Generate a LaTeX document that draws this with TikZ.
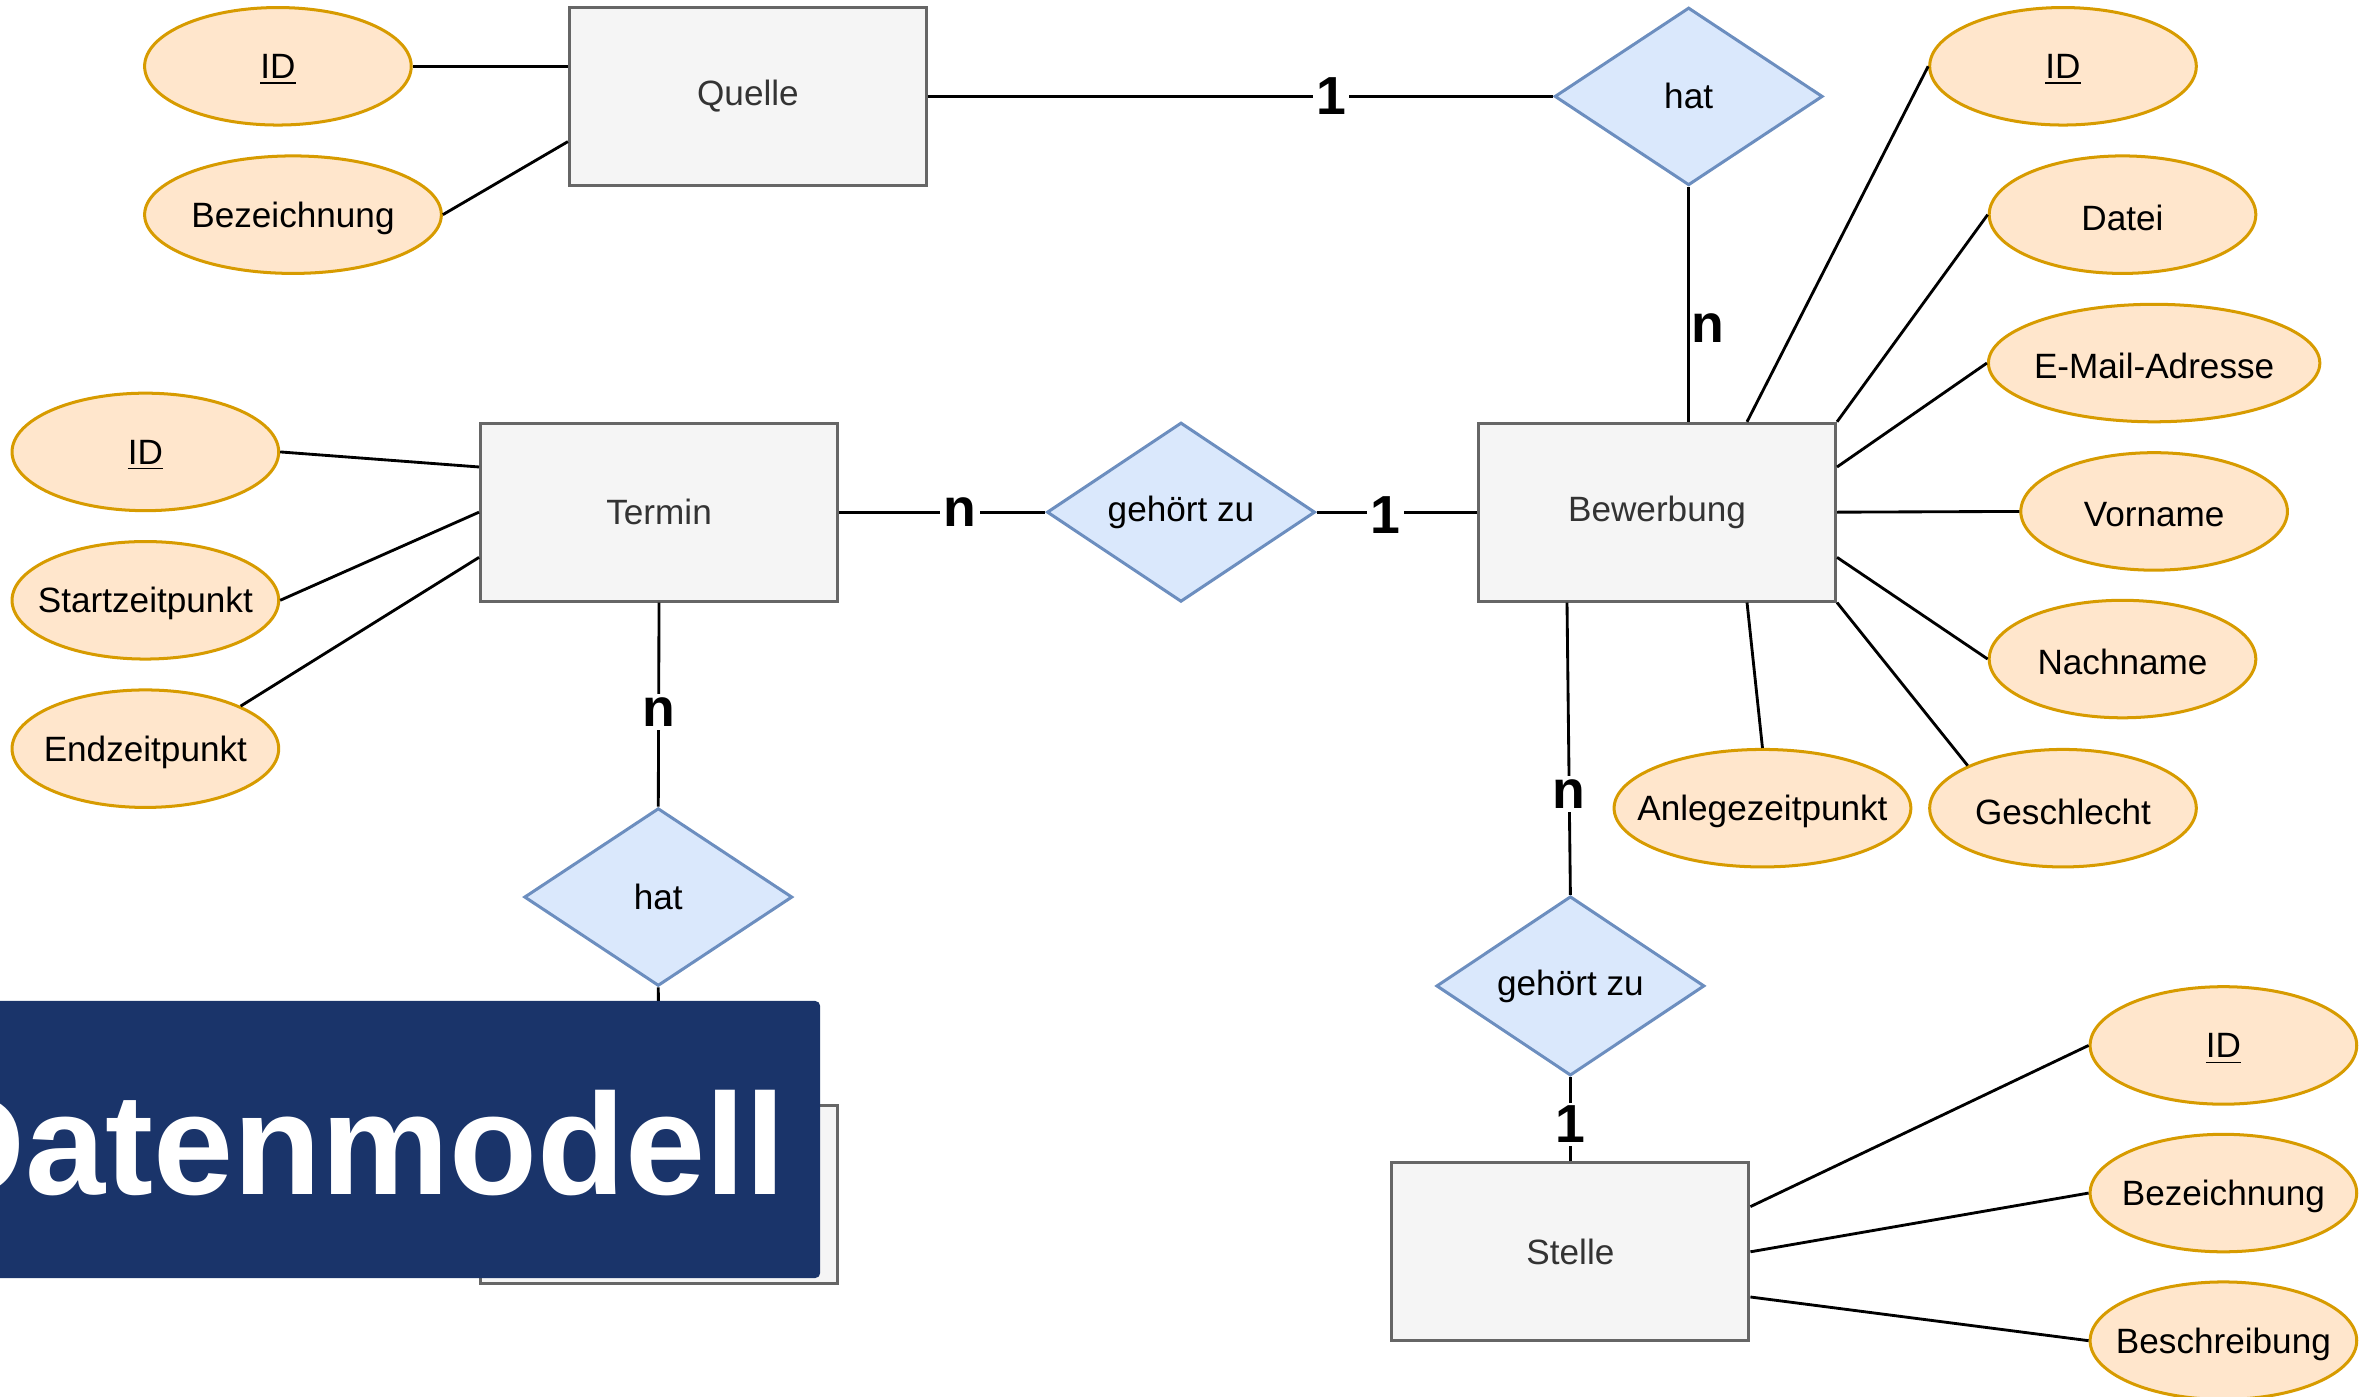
\documentclass[tikz,border=0pt]{standalone}
\usepackage{fontspec}
\setmainfont{Liberation Sans}
\usetikzlibrary{shapes.geometric,calc}
\definecolor{entfill}{HTML}{F5F5F5}
\definecolor{entdraw}{HTML}{666666}
\definecolor{relfill}{HTML}{DAE8FC}
\definecolor{reldraw}{HTML}{6C8EBF}
\definecolor{attfill}{HTML}{FFE6CC}
\definecolor{attdraw}{HTML}{D79B00}
\definecolor{entext}{HTML}{333333}
\definecolor{bannerblue}{HTML}{1A346A}
\begin{document}
\begin{tikzpicture}[x=0.45pt,y=-0.45pt,
 entity/.style={rectangle, draw=entdraw, fill=entfill, line width=0.9pt, minimum width=106.65pt, minimum height=53.1pt, inner sep=0pt, text=entext, font=\fontsize{10.5}{12}\selectfont},
 relation/.style={diamond, draw=reldraw, fill=relfill, line width=0.9pt, minimum width=80.1pt, minimum height=53.1pt, inner sep=0pt, font=\fontsize{10.5}{12}\selectfont},
 attribute/.style={ellipse, draw=attdraw, fill=attfill, line width=0.9pt, minimum width=79.65pt, minimum height=35.1pt, inner sep=0pt},
 wideatt/.style={minimum width=88.65pt},
 widestatt/.style={minimum width=99pt},
 attext/.style={font=\fontsize{10.5}{12}\selectfont, inner sep=0pt, yshift=-1pt},
 conn/.style={line width=0.85pt},
 card/.style={font=\fontsize{16}{18}\selectfont\bfseries, fill=white, inner sep=1pt},
 banner/.style={fill=bannerblue, rounded corners=1.5pt, inner sep=0pt},
]
\useasboundingbox (0,0) rectangle (1568,927);

% entities
\node[entity] (quelle) at (496.5,64) {Quelle};
\node[entity] (termin) at (437.5,340) {Termin};
\node[entity] (bew) at (1100,340) {Bewerbung};
\node[entity] (stelle) at (1042.5,831) {Stelle};
\node[entity] (hidden) at (437.5,793) {};

% relationships
\node[relation] (hat1) at (1121,64) {hat};
\node[relation] (gz1) at (784,340) {gehört zu};
\node[relation] (hat2) at (437,595.5) {hat};
\node[relation] (gz2) at (1042.5,654.5) {gehört zu};

% attributes Quelle
\node[attribute, label={[attext]center:\underline{ID}}] (qid) at (184.5,44) {};
\node[attribute, wideatt, label={[attext]center:Bezeichnung}] (qbez) at (194.5,142.5) {};
% attributes Termin
\node[attribute, label={[attext]center:\underline{ID}}] (tid) at (96.5,300) {};
\node[attribute, label={[attext]center:Startzeitpunkt}] (tstart) at (96.5,398.5) {};
\node[attribute, label={[attext]center:Endzeitpunkt}] (tend) at (96.5,497) {};
% attributes Bewerbung
\node[attribute, label={[attext]center:\underline{ID}}] (bid) at (1369.5,44) {};
\node[attribute, label={[attext]center:Datei}] (bdat) at (1409,142.5) {};
\node[attribute, widestatt, label={[attext]center:E-Mail-Adresse}] (bmail) at (1430,241) {};
\node[attribute, label={[attext]center:Vorname}] (bvor) at (1430,339.5) {};
\node[attribute, label={[attext]center:Nachname}] (bnach) at (1409,437.5) {};
\node[attribute, label={[attext]center:Geschlecht}] (bges) at (1369.5,536.5) {};
\node[attribute, wideatt, label={[attext]center:Anlegezeitpunkt}] (banl) at (1170,536.5) {};
% attributes Stelle
\node[attribute, label={[attext]center:\underline{ID}}] (sid) at (1476,694) {};
\node[attribute, label={[attext]center:Bezeichnung}] (sbez) at (1476,792) {};
\node[attribute, label={[attext]center:Beschreibung}] (sbes) at (1476,890) {};

% attribute connectors
\draw[conn] (qid.east) -- (qid.east -| quelle.west);
\draw[conn] (qbez.east) -- ($(quelle.west)!0.5!(quelle.south west)$);
\draw[conn] (tid.east) -- ($(termin.west)!0.5!(termin.north west)$);
\draw[conn] (tstart.east) -- (termin.west);
\draw[conn] (tend.north east) -- ($(termin.west)!0.5!(termin.south west)$);
\draw[conn] ($(bew.north)!0.5!(bew.north east)$) -- (bid.west);
\draw[conn] (bew.north east) -- (bdat.west);
\draw[conn] ($(bew.east)!0.5!(bew.north east)$) -- (bmail.west);
\draw[conn] (bew.east) -- (bvor.west);
\draw[conn] ($(bew.east)!0.5!(bew.south east)$) -- (bnach.west);
\draw[conn] (bew.south east) -- (bges.north west);
\draw[conn] ($(bew.south)!0.5!(bew.south east)$) -- (banl.north);
\draw[conn] ($(stelle.east)!0.5!(stelle.north east)$) -- (sid.west);
\draw[conn] (stelle.east) -- (sbez.west);
\draw[conn] ($(stelle.east)!0.5!(stelle.south east)$) -- (sbes.west);

% relationship connectors
\draw[conn] (quelle.east) -- node[card, pos=0.645] (c1) {1} (hat1.west);
\draw[conn] (hat1.south) -- node[card, pos=0.6, anchor=west, fill=none, inner sep=0.5pt] (c2) {n} (bew.north -| hat1.south);
\draw[conn] (termin.east) -- node[card, pos=0.586] (c3) {n} (gz1.west);
\draw[conn] (gz1.east) -- node[card, pos=0.43, yshift=-1pt] (c4) {1} (bew.west);
\draw[conn] (termin.south) -- node[card, pos=0.536] (c5) {n} (hat2.north);
\draw[conn] ($(bew.south)!0.5!(bew.south west)$) -- node[card, pos=0.655] (c6) {n} (gz2.north);
\draw[conn] (gz2.south) -- node[card, pos=0.56] (c7) {1} (stelle.north);
\draw[conn] (hat2.south) -- (hidden.north);

% banner
\node[banner, minimum width=249.3pt, minimum height=82.8pt, anchor=north west] (ban) at (-10,664) {};
\node[font=\fontsize{43}{50}\selectfont\bfseries, text=white, anchor=base east, inner sep=0pt] (title) at (522,793) {Datenmodell};
\end{tikzpicture}
\end{document}
